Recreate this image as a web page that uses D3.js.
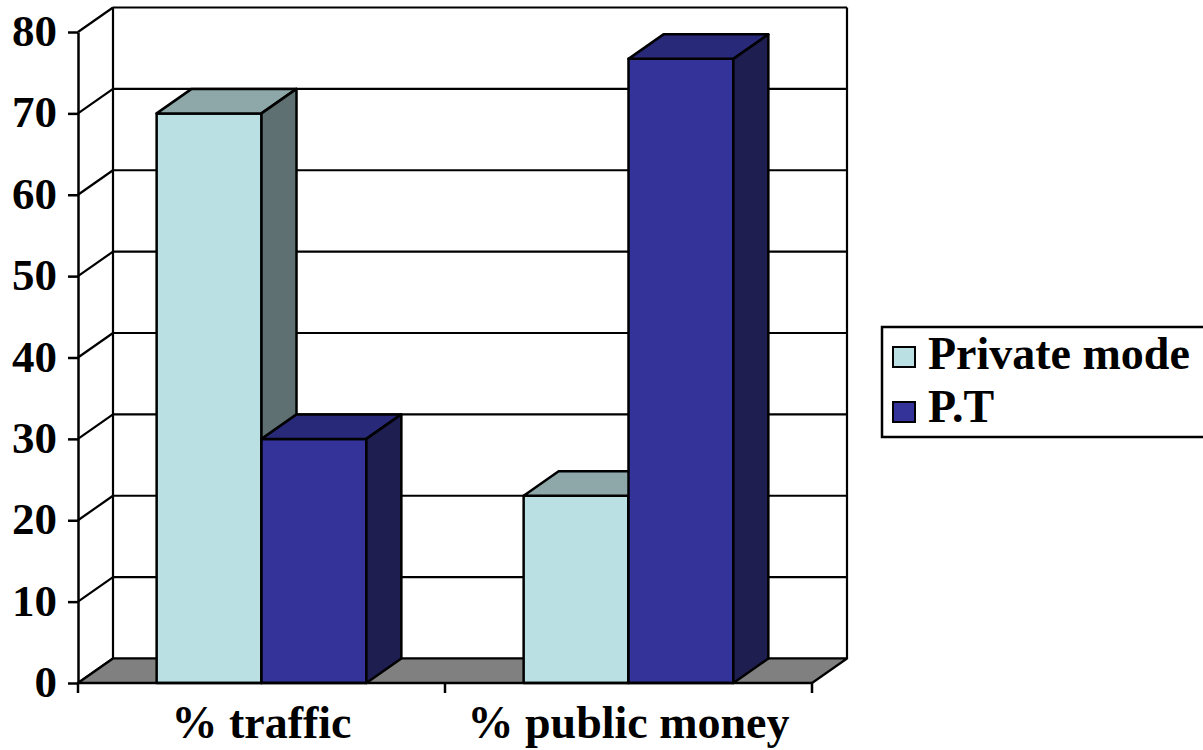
<!DOCTYPE html>
<html>
<head>
<meta charset="utf-8">
<script src="https://cdn.jsdelivr.net/npm/d3@7"></script>
<style>
  html, body { margin: 0; padding: 0; background: #fff; }
  svg { display: block; }
</style>
</head>
<body>
<svg id="chart" width="1203" height="750"></svg>
<script>
// ---- data ----
const categories = ["% traffic", "% public money"];
const seriesNames = ["Private mode", "P.T"];
const privateMode = [70, 23];
const publicTransport = [30, 76.7];
const yTicks = [0, 10, 20, 30, 40, 50, 60, 70, 80];

// ---- styles ----
const FONT = '"Liberation Serif", "Times New Roman", serif';
const colors = {
  "Private mode": { front: "#BBE0E3", top: "#8EA8AA", side: "#5E7072" },
  "P.T": { front: "#333399", top: "#29297A", side: "#1E1E50" }
};
const DX = 35, DY = -24.5; // depth offset

const svg = d3.select("#chart");

const y = d3.scaleLinear().domain([0, 80]).range([683, 32]);
const x0 = d3.scaleBand().domain(categories).range([78, 812]);
const x1 = d3.scaleBand().domain(seriesNames).range([0, x0.bandwidth()]).paddingInner(0).paddingOuter(0.75);

const values = { "Private mode": privateMode, "P.T": publicTransport };

const gridG = svg.append("g").attr("stroke", "#000").attr("stroke-width", 2.2).attr("fill", "none");
const xL = x0.range()[0], xR = x0.range()[1];

// back wall gridlines and left wall diagonals
yTicks.forEach(t => {
  gridG.append("line").attr("x1", xL + DX).attr("x2", xR + DX).attr("y1", y(t) + DY).attr("y2", y(t) + DY);
  gridG.append("line").attr("x1", xL).attr("x2", xL + DX).attr("y1", y(t)).attr("y2", y(t) + DY);
});
// back wall verticals
gridG.append("line").attr("x1", xL + DX).attr("x2", xL + DX).attr("y1", y(80) + DY).attr("y2", y(0) + DY);
gridG.append("line").attr("x1", xR + DX).attr("x2", xR + DX).attr("y1", y(80) + DY).attr("y2", y(0) + DY);

// floor
svg.append("polygon")
  .attr("points", [[xL, y(0)], [xR, y(0)], [xR + DX, y(0) + DY], [xL + DX, y(0) + DY]].map(p => p.join(",")).join(" "))
  .attr("fill", "#808080").attr("stroke", "#000").attr("stroke-width", 2.2).attr("stroke-linejoin", "round");

// bars (left to right)
const barsG = svg.append("g").attr("stroke", "#000").attr("stroke-width", 2.5).attr("stroke-linejoin", "round");
categories.forEach((c, i) => {
  seriesNames.forEach(s => {
    const v = values[s][i];
    const bx = x0(c) + x1(s), bw = x1.bandwidth();
    const top = y(v), base = y(0);
    const col = colors[s];
    barsG.append("rect").attr("x", bx).attr("y", top).attr("width", bw).attr("height", base - top).attr("fill", col.front);
    barsG.append("polygon")
      .attr("points", [[bx, top], [bx + bw, top], [bx + bw + DX, top + DY], [bx + DX, top + DY]].map(p => p.join(",")).join(" "))
      .attr("fill", col.top);
    barsG.append("polygon")
      .attr("points", [[bx + bw, top], [bx + bw + DX, top + DY], [bx + bw + DX, base + DY], [bx + bw, base]].map(p => p.join(",")).join(" "))
      .attr("fill", col.side);
  });
});

// front y axis
const yAxis = d3.axisLeft(y).tickValues(yTicks).tickSize(10).tickPadding(11).tickSizeOuter(0);
const yG = svg.append("g").attr("transform", `translate(${xL},0)`).call(yAxis);
yG.select(".domain").attr("stroke", "#000").attr("stroke-width", 2.5);
yG.selectAll(".tick line").attr("stroke", "#000").attr("stroke-width", 2.5);
yG.selectAll(".tick text").attr("dy", "0.3em").attr("fill", "#000")
  .style("font-family", FONT).style("font-size", "45px").style("font-weight", "bold");

// front x axis
const xG = svg.append("g").attr("stroke", "#000").attr("stroke-width", 2.5);
xG.append("line").attr("x1", xL).attr("x2", xR).attr("y1", y(0)).attr("y2", y(0));
const bounds = categories.map(c => x0(c)).concat([xR]);
bounds.forEach(b => xG.append("line").attr("x1", b).attr("x2", b).attr("y1", y(0)).attr("y2", y(0) + 10));

svg.append("g").selectAll("text").data(categories).join("text")
  .attr("x", d => x0(d) + x0.bandwidth() / 2)
  .attr("y", 738)
  .attr("text-anchor", "middle")
  .style("font-family", FONT).style("font-size", "46px").style("font-weight", "bold")
  .text(d => d);

// legend
const lg = svg.append("g");
lg.append("rect").attr("x", 882).attr("y", 327).attr("width", 360).attr("height", 110)
  .attr("fill", "#fff").attr("stroke", "#000").attr("stroke-width", 2.5);
seriesNames.forEach((s, i) => {
  lg.append("rect").attr("x", 893).attr("y", 347 + i * 55).attr("width", 22).attr("height", 20)
    .attr("fill", colors[s].front).attr("stroke", "#000").attr("stroke-width", 2);
  lg.append("text").attr("x", 928).attr("y", 369 + i * 53)
    .style("font-family", FONT).style("font-size", "46px").style("font-weight", "bold")
    .text(s);
});
</script>
</body>
</html>
